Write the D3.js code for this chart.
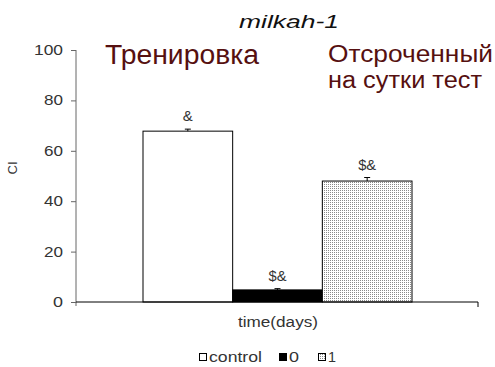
<!DOCTYPE html>
<html><head><meta charset="utf-8">
<script src="https://cdn.jsdelivr.net/npm/d3@7"></script>
<style>html,body{margin:0;padding:0;background:#fff;}svg{display:block;}</style>
</head><body>
<script>
const categories = ["control", "0", "1"];
const values = [67.8, 4.8, 48.0];
const errors = [0.8, 0.5, 1.4];
const markLabels = ["&", "$&", "$&"];
const yTicks = [0, 20, 40, 60, 80, 100];
const title = "milkah-1";
const xTitle = "time(days)";
const yTitle = "CI";
const note1 = ["Тренировка"];
const note2 = ["Отсроченный", "на сутки тест"];

const W = 495, H = 367;
const svg = d3.select("body").append("svg").attr("width", W).attr("height", H)
  .style("font-family", "'Liberation Sans', Arial, sans-serif");

const defs = svg.append("defs");
const pat = defs.append("pattern").attr("id", "dots").attr("width", 2).attr("height", 2)
  .attr("patternUnits", "userSpaceOnUse");
pat.append("rect").attr("width", 2).attr("height", 2).attr("fill", "#fff");
pat.append("rect").attr("width", 1).attr("height", 1).attr("fill", "#8a8a8a");

const y = d3.scaleLinear().domain([0, 100]).range([302, 50]);
const x = d3.scaleBand().domain(categories).range([143, 412]).padding(0);
const fills = ["#fff", "#000", "url(#dots)"];

function txt(xp, yp, s, size, anchor, len, opts = {}) {
  const t = svg.append("text").attr("x", xp).attr("y", yp).text(s)
    .attr("font-size", size).attr("text-anchor", anchor)
    .attr("fill", opts.fill || "#333");
  if (len) t.attr("textLength", len).attr("lengthAdjust", "spacingAndGlyphs");
  if (opts.italic) t.attr("font-style", "italic");
  return t;
}

// y axis
const yAxis = d3.axisLeft(y).tickValues(yTicks).tickSize(5).tickFormat("");
const gy = svg.append("g").attr("transform", "translate(76,0)").call(yAxis);
gy.select(".domain").attr("stroke", "#666").attr("d", `M-0,${y(100)}V${y(0)+4}`);
gy.selectAll(".tick line").attr("stroke", "#666");
const tickLen = {"0": 10, "20": 19, "40": 19, "60": 19, "80": 19, "100": 29};
yTicks.forEach(v => {
  txt(63, y(v) + 5, String(v), 14, "end", tickLen[String(v)]);
});

// bars
svg.selectAll("rect.bar").data(categories).enter().append("rect").attr("class", "bar")
  .attr("x", d => x(d)).attr("width", x.bandwidth())
  .attr("y", (d, i) => y(values[i])).attr("height", (d, i) => y(0) - y(values[i]))
  .attr("fill", (d, i) => fills[i]).attr("stroke", "#000").attr("stroke-width", 1);

// error bars
categories.forEach((c, i) => {
  const cx = x(c) + x.bandwidth() / 2;
  svg.append("line").attr("x1", cx).attr("x2", cx).attr("y1", y(values[i])).attr("y2", y(values[i] + errors[i]))
    .attr("stroke", "#000");
  svg.append("line").attr("x1", cx - 3).attr("x2", cx + 3).attr("y1", y(values[i] + errors[i])).attr("y2", y(values[i] + errors[i]))
    .attr("stroke", "#000");
  txt(cx, y(values[i] + errors[i]) - 8, markLabels[i], 14, "middle", markLabels[i].length > 1 ? 18 : 10);
});

// x axis
svg.append("path").attr("d", `M76,${y(0)}H478V${y(0)+5}`).attr("stroke", "#000").attr("fill", "none");

// titles
txt(289, 28, title, 18, "middle", 100, {italic: true, fill: "#111"});
txt(278, 327, xTitle, 14, "middle", 80);
svg.append("text").attr("transform", "translate(17,168) rotate(-90)").attr("text-anchor", "middle")
  .attr("font-size", 13).attr("fill", "#333").text(yTitle);

// annotations
txt(105, 64, note1[0], 27, "start", 154, {fill: "#561010"});
txt(328, 62, note2[0], 23, "start", 165, {fill: "#561010"});
txt(328, 88, note2[1], 23, "start", 154, {fill: "#561010"});

// legend
const legX = [199, 279, 318];
const legLen = [53, 10, 8];
categories.forEach((c, i) => {
  svg.append("rect").attr("x", legX[i] + 0.5).attr("y", 353.5).attr("width", 7).attr("height", 7)
    .attr("fill", fills[i]).attr("stroke", "#000");
  txt(legX[i] + 10, 362, c, 14, "start", legLen[i]);
});
</script>
</body></html>
